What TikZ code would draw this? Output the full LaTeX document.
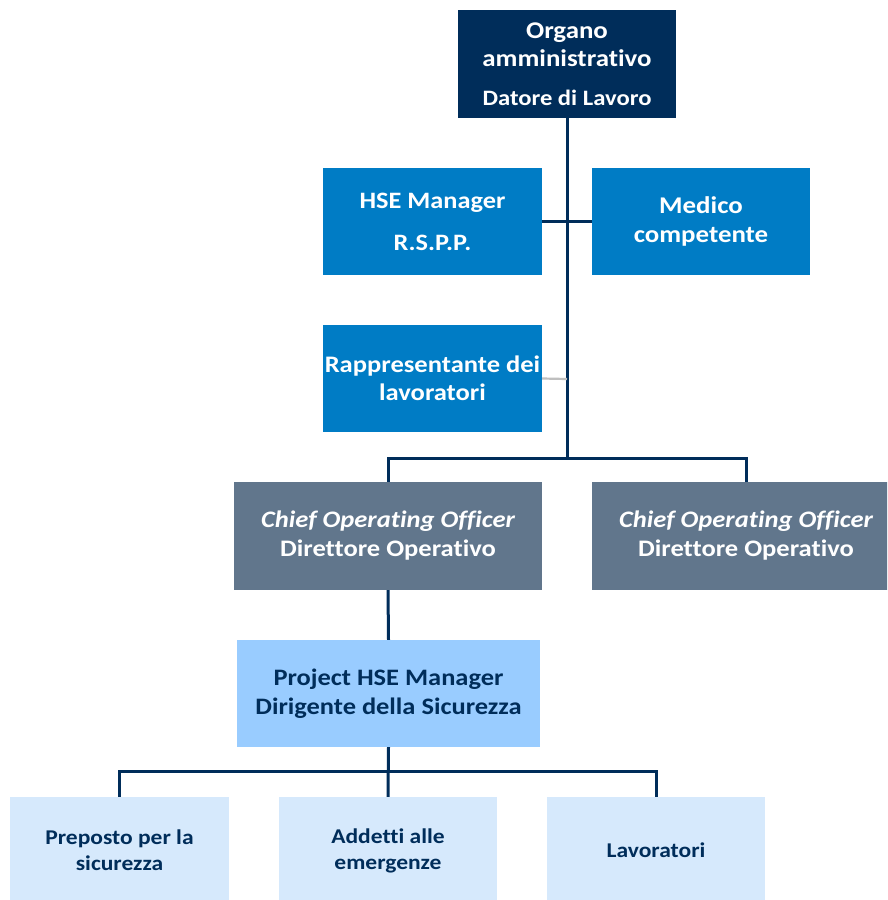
\documentclass[tikz,border=0pt]{standalone}
\usepackage{fontspec}
\setmainfont{Carlito}[FakeStretch=1.12, Ligatures=NoCommon]
\definecolor{navy}{RGB}{0,45,90}
\definecolor{hseblue}{RGB}{0,124,197}
\definecolor{slate}{RGB}{97,118,140}
\definecolor{projblue}{RGB}{153,204,255}
\definecolor{paleblue}{RGB}{214,233,252}
\definecolor{lightgrey}{RGB}{191,191,191}
\tikzset{
  box/.style={rectangle, inner sep=0pt, align=center},
  topbox/.style={box, fill=navy, text=white, minimum width=218pt, minimum height=108pt,
    font=\bfseries\fontsize{24}{28}\selectfont},
  hsebox/.style={box, fill=hseblue, text=white, minimum width=219pt, minimum height=107pt},
  coobox/.style={box, fill=slate, text=white, minimum width=308pt, minimum height=108pt,
    font=\bfseries\fontsize{23.7}{29}\selectfont},
  projbox/.style={box, fill=projblue, text=navy, minimum width=303pt, minimum height=107pt,
    font=\bfseries\fontsize{23.6}{29}\selectfont},
  leafbox/.style={box, fill=paleblue, text=navy, minimum width=219pt, minimum height=107pt,
    font=\bfseries\fontsize{21}{26}\selectfont},
  conn/.style={draw=navy, line width=3pt},
  softconn/.style={draw=lightgrey, line width=2.2pt},
}
\begin{document}
\begin{tikzpicture}[x=1pt,y=-1pt]
\useasboundingbox (0,0) rectangle (887,900);
\fill[white] (0,0) rectangle (887,900);
\begin{scope}
\clip (0,0) rectangle (887,900);
\node[topbox] (top) at (567,64) {Organo\\amministrativo\\[11pt]{\fontsize{22}{28}\selectfont Datore di Lavoro}};
\node[hsebox, font=\bfseries\fontsize{23.5}{42}\selectfont] (hse) at (432.5,221.5) {HSE Manager\\R.S.P.P.};
\node[hsebox, minimum width=218pt, font=\bfseries\fontsize{24}{29}\selectfont] (med) at (701,221.5) {Medico\\competente};
\node[hsebox, font=\bfseries\fontsize{23.7}{28}\selectfont] (rapp) at (432.5,378.5) {Rappresentante dei\\lavoratori};
\node[coobox] (coo1) at (388,536) {{\itshape Chief Operating Officer}\\Direttore Operativo};
\node[coobox] (coo2) at (746,536) {{\itshape Chief Operating Officer}\\Direttore Operativo};
\node[projbox] (proj) at (388.5,693.5) {Project HSE Manager\\Dirigente della Sicurezza};
\node[leafbox] (b1) at (119.5,850.5) {Preposto per la\\sicurezza};
\node[leafbox, minimum width=218pt] (b2) at (388,850.5) {Addetti alle\\emergenze};
\node[leafbox, minimum width=218pt] (b3) at (656,850.5) {Lavoratori};
\end{scope}
\coordinate (busA) at (567,458);
\coordinate (busB) at (388,771);
\coordinate (rappEnd) at (567,379);
\draw[conn] (top.south) -- (busA);
\draw[conn] (hse.east) -- (med.west);
\draw[softconn] (rapp.east) -- (rappEnd);
\draw[conn] (coo1.north) |- (busA) -| (coo2.north);
\draw[conn] (coo1.south) -- (proj.north);
\draw[conn] (proj.south) -- (b2.north);
\draw[conn] (b1.north) |- (busB) -| (b3.north);
\end{tikzpicture}
\end{document}
